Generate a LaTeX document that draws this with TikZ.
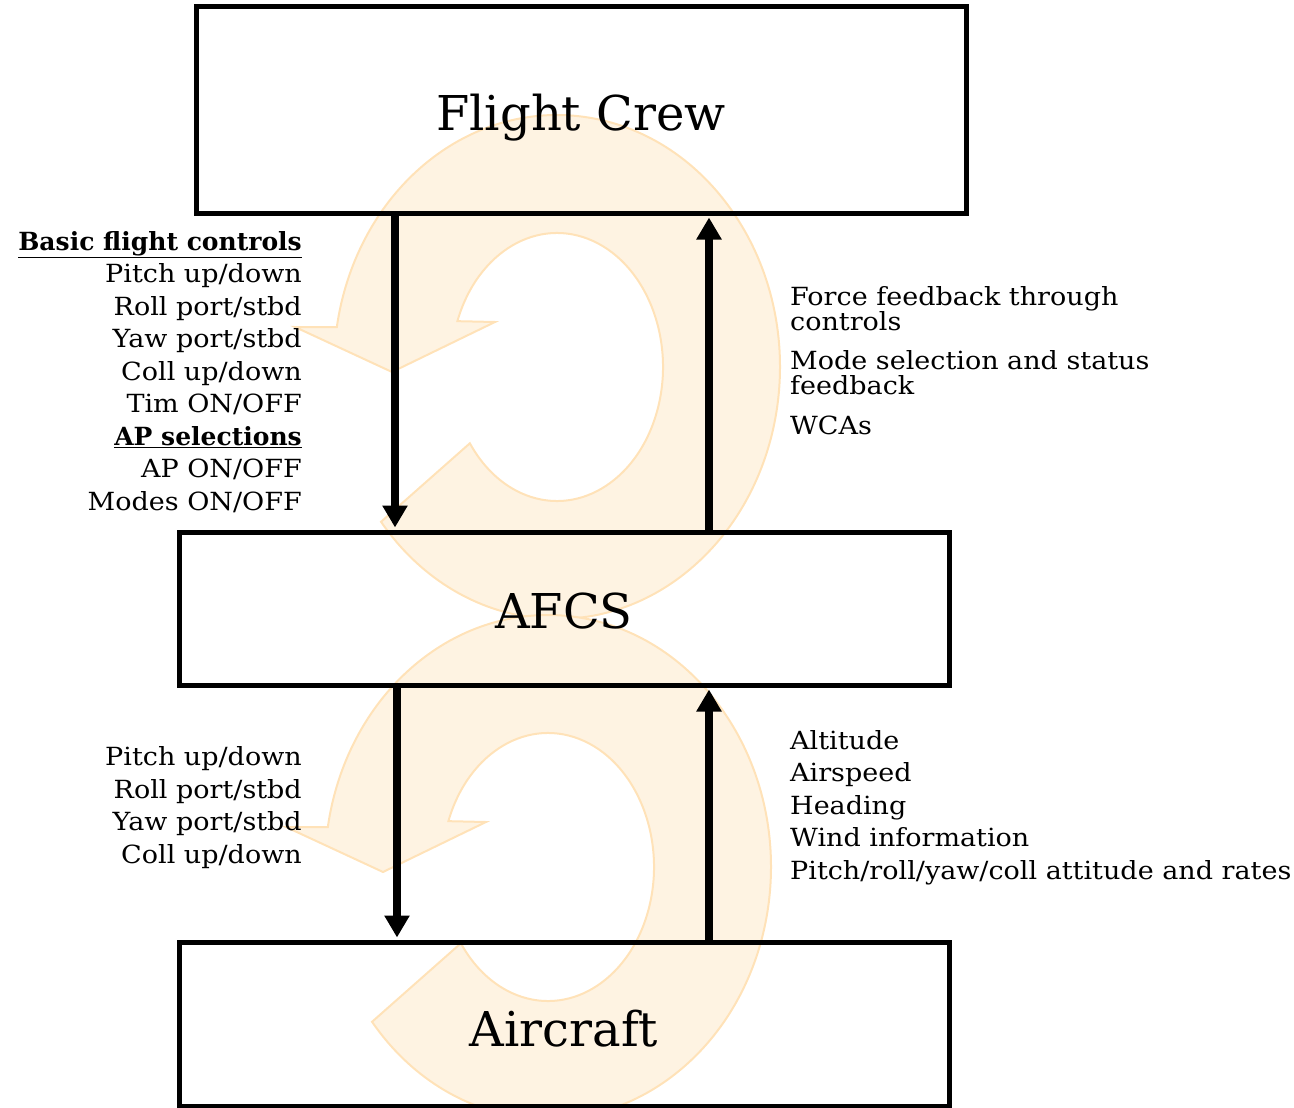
\documentclass[tikz,border=0pt]{standalone}
\usepackage{fontspec}
\setmainfont{DejaVu Serif}
\newfontfamily\lblfont[FakeStretch=1.08]{DejaVu Serif}
\newfontfamily\hdfont{DejaVu Serif}
\usetikzlibrary{arrows.meta,calc}
\definecolor{ringfill}{RGB}{254,243,226}
\definecolor{ringline}{RGB}{255,226,184}
\newcommand{\hd}[1]{{\hdfont\bfseries\underline{#1}}}
\tikzset{
  box/.style={draw=black, line width=5pt, inner sep=0pt, text depth=0pt, font=\fontsize{48}{54}\selectfont},
  flow/.style={line width=7.5pt, -{Triangle[width=24pt,length=22pt]}, shorten >=2pt},
  lbl/.style={inner sep=0pt, font=\lblfont\fontsize{25}{32.5}\selectfont},
  lbltight/.style={inner sep=0pt, font=\lblfont\fontsize{25}{25}\selectfont},
  ring/.style={fill=ringfill, draw=ringline, line width=2pt},
}
\newcommand{\loopshape}{%
  \path[ring] (-142.1:223pt and 252pt) arc[start angle=-142.1, end angle=170.9, x radius=223pt, y radius=252pt]
    -- (-262,-40) -- (-165,5) -- (-62,-45) -- (160:106pt and 134pt)
    arc[start angle=160, end angle=-145.3, x radius=106pt, y radius=134pt] -- cycle;}
\begin{document}
\begin{tikzpicture}[x=1pt,y=-1pt]
\useasboundingbox (0,0) rectangle (1294,1108);
% background loop arrows
\begin{scope}[shift={(557,367)}]\loopshape\end{scope}
\begin{scope}[shift={(548,867)}]\loopshape\end{scope}
% boxes
\node[box, minimum width=770pt, minimum height=206pt, text height=42pt] (crew) at (581,110) {Flight Crew};
\node[box, minimum width=770pt, minimum height=153pt, text height=39pt] (afcs) at (564,608.5) {AFCS};
\node[box, minimum width=770pt, minimum height=164pt, text height=44pt] (acft) at (564,1024) {Aircraft};
% connector columns
\coordinate (c1) at (395,0);
\coordinate (c2) at (709,0);
\coordinate (c3) at (397,0);
\draw[flow] (crew.south -| c1) -- (afcs.north -| c1);
\draw[flow] (afcs.north -| c2) -- (crew.south -| c2);
\draw[flow] (afcs.south -| c3) -- (acft.north -| c3);
\draw[flow] (acft.north -| c2) -- (afcs.south -| c2);
% labels (base anchor = baseline of last line)
\node[lbl, anchor=base east, align=right] (l1) at (302,510) {%
  \hd{Basic flight controls}\\ Pitch up/down\\ Roll port/stbd\\ Yaw port/stbd\\
  Coll up/down\\ Tim ON/OFF\\ \hd{AP selections}\\ AP ON/OFF\\ Modes ON/OFF};
\node[lbl, anchor=base east, align=right] (l2) at (302,863) {%
  Pitch up/down\\ Roll port/stbd\\ Yaw port/stbd\\ Coll up/down};
\node[lbltight, anchor=base west, align=left] (r1) at (790,330) {Force feedback through\\ controls};
\node[lbltight, anchor=base west, align=left] (r2) at (790,394) {Mode selection and status\\ feedback};
\node[lbl, anchor=base west] (r3) at (790,434) {WCAs};
\node[lbl, anchor=base west, align=left] (r4) at (790,879) {%
  Altitude\\ Airspeed\\ Heading\\ Wind information\\ Pitch/roll/yaw/coll attitude and rates};
\end{tikzpicture}
\end{document}
